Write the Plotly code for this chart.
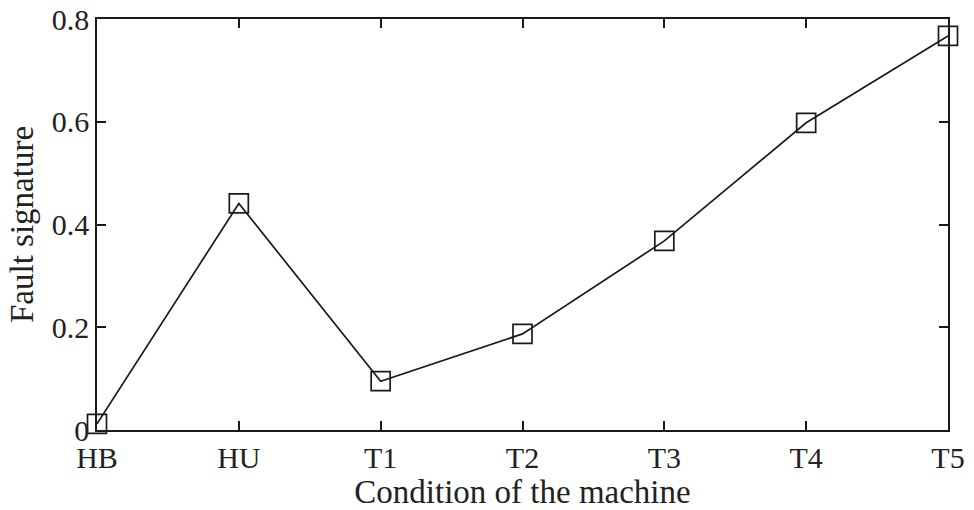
import plotly.graph_objects as go

# Machine conditions and the fault signature measured for each
conditions = ["HB", "HU", "T1", "T2", "T3", "T4", "T5"]
fault_signature = [0.012, 0.441, 0.095, 0.187, 0.368, 0.598, 0.767]

y_ticks = [0, 0.2, 0.4, 0.6, 0.8]
y_tick_labels = ["0", "0.2", "0.4", "0.6", "0.8"]

serif = "Liberation Serif, Times New Roman, serif"
ink = "#1a1a1a"

fig = go.Figure(
    go.Scatter(
        x=conditions,
        y=fault_signature,
        mode="lines+markers",
        line=dict(color=ink, width=1.7),
        marker=dict(symbol="square-open", size=19, color=ink, line=dict(width=1.7)),
        cliponaxis=False,
    )
)

axis_common = dict(
    showline=True,
    linecolor=ink,
    linewidth=1.7,
    mirror="ticks",
    ticks="inside",
    ticklen=9,
    tickwidth=1.5,
    tickcolor=ink,
    showgrid=False,
    zeroline=False,
    automargin=False,
    tickfont=dict(family=serif, size=30, color="#222"),
    title_font=dict(family=serif, size=33, color="#222"),
)

fig.update_xaxes(
    type="category",
    range=[0, len(conditions) - 1],
    title_text="Condition of the machine",
    title_standoff=2,
    **axis_common,
)
fig.update_yaxes(
    range=[0, 0.8],
    tickvals=y_ticks,
    ticktext=y_tick_labels,
    title_text="Fault signature",
    title_standoff=8,
    **axis_common,
)

fig.update_layout(
    width=974,
    height=510,
    margin=dict(l=97, r=26, t=19, b=80),
    paper_bgcolor="white",
    plot_bgcolor="white",
    showlegend=False,
)

fig.write_html("out.html")
